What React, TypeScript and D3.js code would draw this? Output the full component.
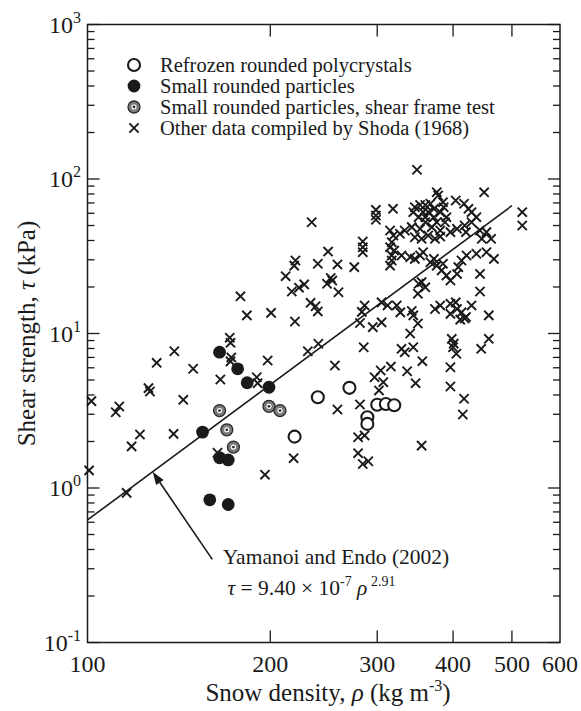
import { useEffect, useRef } from "react";
import * as d3 from "d3";

// [density (kg m^-3), shear strength (kPa)]
const refrozen = [
  [239.5, 3.87], [219.3, 2.15], [270, 4.45], [300, 3.46],
  [310, 3.5], [320, 3.43], [289, 2.87], [289, 2.6],
];

const smallParticles = [
  [165, 7.57], [176.7, 5.91], [183.2, 4.8], [199, 4.49], [154.7, 2.3],
  [165, 1.57], [170.5, 1.52], [159, 0.839], [170.5, 0.782],
];

const shearFrame = [
  [165, 3.17], [169.6, 2.38], [173.9, 1.84], [199, 3.38], [207.5, 3.17],
];

const shoda = [
  [100.6, 1.3], [101.5, 3.65], [111.3, 3.09], [112.8, 3.37], [116, 0.93],
  [118.2, 1.86], [122, 2.22], [126, 4.43], [126.7, 4.21], [130, 6.46],
  [138.6, 2.24], [139, 7.68], [143.8, 3.72], [149.3, 5.91], [163.7, 1.69],
  [165.5, 5.04], [171.5, 9.4], [172, 8.7], [172.5, 7.0], [172, 6.6],
  [178.6, 17.4], [183, 13.1], [190, 5.21], [190.6, 4.77], [196, 1.22],
  [198, 6.69], [200.6, 13.6], [212, 23.5], [217, 18.7], [218.5, 1.56],
  [219, 27.5], [219.6, 11.96], [220, 29.7], [223, 19.8], [227.5, 20.8],
  [230.6, 7.68], [233, 15.8], [234, 52.5], [237.5, 15.0], [239.5, 13.9],
  [239.5, 28.3], [240, 8.58], [248, 21.0], [249, 33.9], [251.5, 22.9],
  [253, 22.0], [255.5, 6.21], [258, 28.0], [258, 3.22], [259, 18.5],
  [298.5, 63.1], [298.5, 58.0], [298.5, 54.5], [284, 39.4], [284, 36.2],
  [284, 33.6], [275, 26.9], [286, 15.2], [283, 13.8], [281, 11.7],
  [295, 11.0], [305, 11.8], [305, 15.9], [312, 15.2], [318.5, 64.1],
  [323, 15.2], [327.5, 13.7], [285, 8.15], [329, 7.96], [333, 7.57],
  [344, 8.15], [340, 10.0], [342, 14.0], [344, 13.1], [350, 11.6],
  [348.8, 114.7], [376, 82.2], [378, 78.2], [450, 82], [520, 61],
  [520, 50], [385, 70.8], [386, 65.7], [404, 72.6], [417, 69.1],
  [424, 64.1], [429, 61], [437, 56.6], [346, 65.7], [353, 67.9],
  [360, 67.9], [367, 69.1], [372, 64.1], [344, 61], [357, 61],
  [364, 61], [381, 61], [351, 56.6], [360, 56.6], [372, 56.6],
  [390, 56.6], [360, 52.5], [376, 52.5], [388, 52.5], [342, 48.8],
  [353, 47.6], [369, 48.8], [381, 46.4], [396, 45.3], [406, 47.6],
  [418, 50], [429, 52.5], [420, 45.3], [315, 46.4], [319, 43.1],
  [327, 44.2], [333, 46.4], [346, 42], [355, 41], [364, 43.1],
  [373.5, 41], [381, 42.4], [443, 46.4], [454, 45.3], [462, 41],
  [446, 41], [317, 39], [315, 36.2], [320, 34.4], [317, 32],
  [329, 32], [340, 31.2], [346, 30.4], [353, 32], [357, 33.6],
  [315, 27.5], [317, 29.7], [367, 28.9], [372, 30.4], [376, 27.5],
  [385, 28.3], [383, 25.6], [390, 23.7], [396, 22.0], [406, 24.3],
  [408, 26.9], [413, 29.7], [421, 32], [437, 32.8], [454, 33.6],
  [467, 30.4], [443, 24.3], [443, 18.7], [351, 21], [355, 21.5],
  [360, 19.9], [350, 18.1], [373.5, 14.4], [381, 15.2], [396, 15.6],
  [404, 15.9], [406, 14.4], [413, 13.7], [420, 12.8], [411, 12.3],
  [418, 12.5], [429, 15.2], [458, 13.1], [396, 13.4], [398, 9.24],
  [400, 8.15], [405, 7.39], [401, 8.6], [458, 9.24], [445, 7.96],
  [396, 6.05], [396, 4.54], [417, 3.78], [415, 2.99], [356, 6.62],
  [336, 5.7], [347, 4.77], [316, 6.11], [304, 5.76], [297, 5.21],
  [307, 4.84], [302, 4.28], [281, 3.47], [279, 2.13], [286, 2.19],
  [279, 1.68], [284, 1.43], [290, 1.49], [355, 1.88],
];

const legendLabels = [
  "Refrozen rounded polycrystals",
  "Small rounded particles",
  "Small rounded particles, shear frame test",
  "Other data compiled by Shoda (1968)",
];

const xTickLabels = [100, 200, 300, 400, 500, 600];
const yDecades = [-1, 0, 1, 2, 3];

// Yamanoi and Endo (2002): tau = 9.40e-7 * rho^2.91
const fitCoef = 9.4e-7;
const fitExp = 2.91;
const fitRange = [100, 500];

const FONT = "Liberation Serif, Times New Roman, Times, serif";
const INK = "#1a1a1a";

function App() {
  const ref = useRef(null);

  useEffect(() => {
    document.body.style.margin = "0";
    const svg = d3.select(ref.current);
    svg.selectAll("*").remove();

    const left = 87.5, right = 560, top = 24.5, bottom = 642.5;

    const x = d3.scaleLog().domain([100, 600]).range([left, right]);
    const y = d3.scaleLog().domain([0.1, 1000]).range([bottom, top]);

    const g = svg.append("g").style("font-family", FONT);

    // frame
    g.append("rect")
      .attr("x", left)
      .attr("y", top)
      .attr("width", right - left)
      .attr("height", bottom - top)
      .attr("fill", "none")
      .attr("stroke", INK)
      .attr("stroke-width", 1.5);

    // y ticks (major + minor), inward on both sides
    const yTickVals = [];
    yDecades.forEach((p) => {
      if (p < 3) {
        for (let m = 1; m <= 9; m++) yTickVals.push({ v: m * Math.pow(10, p), major: m === 1 });
      } else {
        yTickVals.push({ v: 1000, major: true });
      }
    });
    yTickVals.forEach((t) => {
      const len = t.major ? 12 : 7;
      const yy = y(t.v);
      g.append("line")
        .attr("x1", left).attr("x2", left + len)
        .attr("y1", yy).attr("y2", yy)
        .attr("stroke", INK).attr("stroke-width", 1.3);
      g.append("line")
        .attr("x1", right).attr("x2", right - len)
        .attr("y1", yy).attr("y2", yy)
        .attr("stroke", INK).attr("stroke-width", 1.3);
    });

    // x ticks, inward top and bottom
    xTickLabels.filter((v) => v > 100 && v < 600).forEach((v) => {
      g.append("line")
        .attr("x1", x(v)).attr("x2", x(v))
        .attr("y1", bottom).attr("y2", bottom - 12)
        .attr("stroke", INK).attr("stroke-width", 1.3);
      g.append("line")
        .attr("x1", x(v)).attr("x2", x(v))
        .attr("y1", top).attr("y2", top + 12)
        .attr("stroke", INK).attr("stroke-width", 1.3);
    });

    // x tick labels
    xTickLabels.forEach((v) => {
      g.append("text")
        .attr("x", x(v))
        .attr("y", 672)
        .attr("text-anchor", "middle")
        .attr("font-size", 24)
        .attr("fill", INK)
        .text(v);
    });

    // y tick labels 10^p
    yDecades.forEach((p) => {
      const t = g.append("text")
        .attr("x", 81)
        .attr("y", y(Math.pow(10, p)) + 8)
        .attr("text-anchor", "end")
        .attr("font-size", 24)
        .attr("fill", INK);
      t.append("tspan").text("10");
      t.append("tspan").attr("font-size", 16).attr("dy", -10).text(p);
    });

    // axis titles
    const xt = g.append("text")
      .attr("x", 328)
      .attr("y", 701)
      .attr("text-anchor", "middle")
      .attr("font-size", 25)
      .attr("fill", INK);
    xt.append("tspan").text("Snow density, ");
    xt.append("tspan").attr("font-style", "italic").text("ρ");
    xt.append("tspan").text(" (kg m");
    xt.append("tspan").attr("font-size", 16).attr("dy", -10).text("-3");
    xt.append("tspan").attr("dy", 10).text(")");

    const yt = g.append("text")
      .attr("transform", `translate(35, ${(top + bottom) / 2}) rotate(-90)`)
      .attr("text-anchor", "middle")
      .attr("font-size", 25)
      .attr("fill", INK);
    yt.append("tspan").text("Shear strength, ");
    yt.append("tspan").attr("font-style", "italic").text("τ");
    yt.append("tspan").text(" (kPa)");

    // fit line
    const line = d3.line()
      .x((d) => x(d))
      .y((d) => y(fitCoef * Math.pow(d, fitExp)));
    g.append("path")
      .datum(fitRange)
      .attr("d", line)
      .attr("fill", "none")
      .attr("stroke", INK)
      .attr("stroke-width", 1.6);

    // markers
    const cross = (sel, cx, cy, s) => {
      sel.append("path")
        .attr("d", `M${cx - s},${cy - s}L${cx + s},${cy + s}M${cx - s},${cy + s}L${cx + s},${cy - s}`)
        .attr("stroke", INK)
        .attr("stroke-width", 1.9)
        .attr("fill", "none");
    };
    const openCircle = (sel, cx, cy) => {
      sel.append("circle").attr("cx", cx).attr("cy", cy).attr("r", 6)
        .attr("fill", "white").attr("stroke", INK).attr("stroke-width", 2.1);
    };
    const filledCircle = (sel, cx, cy) => {
      sel.append("circle").attr("cx", cx).attr("cy", cy).attr("r", 6.4).attr("fill", INK);
    };
    const doubleCircle = (sel, cx, cy) => {
      sel.append("circle").attr("cx", cx).attr("cy", cy).attr("r", 6)
        .attr("fill", "#7d7d7d").attr("stroke", "#2a2a2a").attr("stroke-width", 1.3);
      sel.append("circle").attr("cx", cx).attr("cy", cy).attr("r", 3.2)
        .attr("fill", "white").attr("stroke", "#5a5a5a").attr("stroke-width", 0.8);
      sel.append("circle").attr("cx", cx).attr("cy", cy).attr("r", 1.4).attr("fill", "#2a2a2a");
    };

    const pts = g.append("g");
    shoda.forEach((d) => cross(pts, x(d[0]), y(d[1]), 4.6));
    refrozen.forEach((d) => openCircle(pts, x(d[0]), y(d[1])));
    smallParticles.forEach((d) => filledCircle(pts, x(d[0]), y(d[1])));
    shearFrame.forEach((d) => doubleCircle(pts, x(d[0]), y(d[1])));

    // legend
    const legendY = [65, 86, 107, 128];
    const lg = g.append("g");
    openCircle(lg, 134, legendY[0]);
    filledCircle(lg, 134, legendY[1]);
    doubleCircle(lg, 134, legendY[2]);
    cross(lg, 134, legendY[3], 4.6);
    legendLabels.forEach((t, i) => {
      lg.append("text")
        .attr("x", 160)
        .attr("y", legendY[i] + 6.5)
        .attr("font-size", 20.5)
        .attr("fill", INK)
        .text(t);
    });

    // annotation arrow
    const tipRho = 128;
    const tip = [x(tipRho), y(fitCoef * Math.pow(tipRho, fitExp))];
    const tail = [x(160.5), y(0.345)];
    const ang = Math.atan2(tip[1] - tail[1], tip[0] - tail[0]);
    const headLen = 13, headW = 4.5;
    const base = [tip[0] - headLen * Math.cos(ang), tip[1] - headLen * Math.sin(ang)];
    g.append("line")
      .attr("x1", tail[0]).attr("y1", tail[1])
      .attr("x2", base[0]).attr("y2", base[1])
      .attr("stroke", INK).attr("stroke-width", 1.6);
    g.append("path")
      .attr("d", `M${tip[0]},${tip[1]}L${base[0] + headW * Math.sin(ang)},${base[1] - headW * Math.cos(ang)}L${base[0] - headW * Math.sin(ang)},${base[1] + headW * Math.cos(ang)}Z`)
      .attr("fill", INK);

    g.append("text")
      .attr("x", x(167))
      .attr("y", 564)
      .attr("font-size", 21.5)
      .attr("fill", INK)
      .text("Yamanoi and Endo (2002)");

    const eq = g.append("text")
      .attr("x", x(170))
      .attr("y", 595)
      .attr("font-size", 21.5)
      .attr("fill", INK);
    eq.append("tspan").attr("font-style", "italic").text("τ");
    eq.append("tspan").text(" = 9.40 × 10");
    eq.append("tspan").attr("font-size", 14).attr("dy", -9).text("-7");
    eq.append("tspan").attr("dy", 9).attr("font-style", "italic").text(" ρ");
    eq.append("tspan").attr("font-size", 14).attr("dy", -9).text(" 2.91");
  }, []);

  return <svg ref={ref} width={581} height={711} style={{ display: "block", background: "white" }} />;
}

export default App;
